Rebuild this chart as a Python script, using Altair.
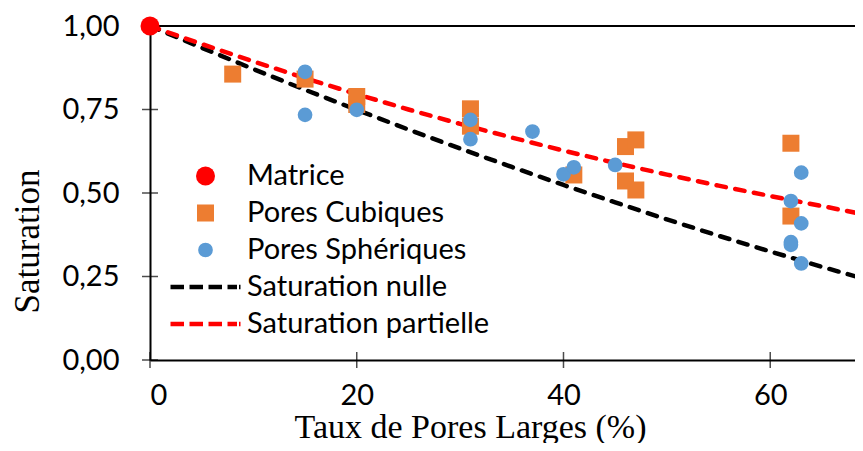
import altair as alt
import pandas as pd

# ---- data ----
series_names = ["Matrice", "Pores Cubiques", "Pores Sphériques",
                "Saturation nulle", "Saturation partielle"]
fill_colors = ["#FF0000", "#ED7D31", "#5B9BD5", "transparent", "transparent"]
stroke_colors = ["transparent", "transparent", "transparent", "#000000", "#FF0000"]

matrice_x = [0]
matrice_y = [1.00]

cub_x = [8, 15, 20, 20, 31, 31, 41, 46, 47, 46, 47, 62, 62]
cub_y = [0.856, 0.841, 0.789, 0.765, 0.752, 0.700, 0.554, 0.639, 0.659,
         0.536, 0.509, 0.649, 0.431]

sph_x = [15, 15, 20, 31, 31, 37, 40, 41, 45, 62, 62, 62, 63, 63, 63]
sph_y = [0.863, 0.734, 0.749, 0.719, 0.661, 0.684, 0.556, 0.577, 0.584,
         0.476, 0.353, 0.345, 0.561, 0.409, 0.289]

line_x = [0, 5, 10, 15, 20, 25, 30, 35, 40, 45, 50, 55, 60, 65, 70]
nulle_y = [1.000, 0.935, 0.871, 0.809, 0.749, 0.690, 0.633, 0.578, 0.524,
           0.472, 0.421, 0.372, 0.325, 0.279, 0.235]
partielle_y = [1.000, 0.946, 0.894, 0.844, 0.796, 0.750, 0.707, 0.666, 0.627,
               0.590, 0.555, 0.522, 0.491, 0.461, 0.430]

y_ticks = [0, 0.25, 0.5, 0.75, 1.0]
x_ticks = [0, 20, 40, 60]

# ---- tables ----
points_df = pd.concat([
    pd.DataFrame({"x": cub_x, "y": cub_y, "series": "Pores Cubiques"}),
    pd.DataFrame({"x": sph_x, "y": sph_y, "series": "Pores Sphériques"}),
    pd.DataFrame({"x": matrice_x, "y": matrice_y, "series": "Matrice"}),
], ignore_index=True)
points_df["order"] = range(len(points_df))
nulle_df = pd.DataFrame({"x": line_x, "y": nulle_y})
partielle_df = pd.DataFrame({"x": line_x, "y": partielle_y})
ytick_df = pd.DataFrame({"v": y_ticks})
xtick_df = pd.DataFrame({"v": x_ticks})
top_df = pd.DataFrame({"v": [1.0]})

x_scale = alt.Scale(domain=[0, 68.2], nice=False, zero=False)
y_scale = alt.Scale(domain=[0, 1], nice=False)

# marker areas (point scale: evenly stepped along the legend order)
size_range = [361, 73]
n = len(series_names)
sizes = [size_range[0] + i * (size_range[1] - size_range[0]) / (n - 1) for i in range(n)]

# legend dash symbol: segments in pixels, converted to symbol units
dash_px = [(-35, -21.5), (-16, -2.5), (3, 16.5), (22, 31.5), (33.5, 35)]


def dash_path(area):
    r = area ** 0.5 / 2
    return "".join(f"M{a / r:.4f},0H{b / r:.4f}" for a, b in dash_px)


shape_range = ["circle", "square", "circle", dash_path(sizes[3]), dash_path(sizes[4])]


def make_legend():
    return alt.Legend(
        title=None,
        orient="none",
        legendX=18,
        legendY=134,
        labelFont="Lato",
        labelFontSize=29,
        labelColor="black",
        labelOffset=27,
        labelLimit=0,
        symbolOffset=23,
        symbolStrokeWidth=4.5,
        symbolOpacity=1,
        clipHeight=32,
        rowPadding=5,
        padding=0,
    )


x_axis = alt.Axis(values=x_ticks, ticks=False, grid=False, domainColor="black",
                  domainWidth=2, labelFont="Lato", labelFontSize=29,
                  labelColor="black", labelPadding=21,
                  title="Taux de Pores Larges (%)", titleFont="Liberation Serif",
                  titleFontSize=34, titleFontWeight="normal", titleColor="black",
                  titleX=320, titleY=77, titleBaseline="alphabetic",
                  titleAnchor="start", titleAlign="center")
y_axis = alt.Axis(values=y_ticks, ticks=False, grid=False, domainColor="black",
                  domainWidth=2, labelFont="Lato", labelFontSize=29,
                  labelColor="black", labelPadding=31,
                  labelExpr="replace(format(datum.value, '.2f'), '.', ',')",
                  title="Saturation", titleFont="Liberation Serif",
                  titleFontSize=35, titleFontWeight="normal", titleColor="black",
                  titleAngle=270, titleX=-112, titleY=215,
                  titleBaseline="alphabetic", titleAlign="center")

base_x = alt.X("x:Q", scale=x_scale, axis=x_axis)
base_y = alt.Y("y:Q", scale=y_scale, axis=y_axis)

line_style = dict(strokeWidth=4.5, strokeDash=[9.5, 9.5], strokeCap="round", clip=True)

line_nulle = alt.Chart(nulle_df).mark_line(color="#000000", **line_style).encode(
    x=base_x, y=base_y)
line_partielle = alt.Chart(partielle_df).mark_line(color="#FF0000", **line_style).encode(
    x=base_x, y=base_y)

points = alt.Chart(points_df).mark_point(filled=True, opacity=1, strokeWidth=4.5).encode(
    x=base_x, y=base_y,
    fill=alt.Fill("series:N",
                  scale=alt.Scale(domain=series_names, range=fill_colors),
                  legend=make_legend()),
    stroke=alt.Stroke("series:N",
                      scale=alt.Scale(domain=series_names, range=stroke_colors),
                      legend=make_legend()),
    shape=alt.Shape("series:N",
                    scale=alt.Scale(domain=series_names, range=shape_range),
                    legend=make_legend()),
    size=alt.Size("series:N",
                  scale=alt.Scale(type="point", domain=series_names,
                                  range=size_range, padding=0),
                  legend=make_legend()),
    order=alt.Order("order:Q"),
)

yticks = alt.Chart(ytick_df).mark_tick(
    orient="horizontal", size=16, thickness=1.5, color="black"
).encode(x=alt.X(datum=0, type="quantitative", scale=x_scale),
         y=alt.Y("v:Q", scale=y_scale))

xticks = alt.Chart(xtick_df).mark_tick(
    orient="vertical", size=16, thickness=1.5, color="black"
).encode(x=alt.X("v:Q", scale=x_scale),
         y=alt.Y(datum=0, type="quantitative", scale=y_scale))

top_line = alt.Chart(top_df).mark_rule(color="black", strokeWidth=2).encode(
    y=alt.Y("v:Q", scale=y_scale))

chart = alt.layer(
    yticks, xticks, top_line, line_nulle, line_partielle, points
).properties(
    width=705, height=334,
    autosize=alt.AutoSizeParams(type="none"),
    padding={"left": 142, "top": 18, "right": 0, "bottom": 83},
    background="white",
).configure_view(stroke=None)

chart.save("out.html", embed_options={"renderer": "svg", "actions": False})
